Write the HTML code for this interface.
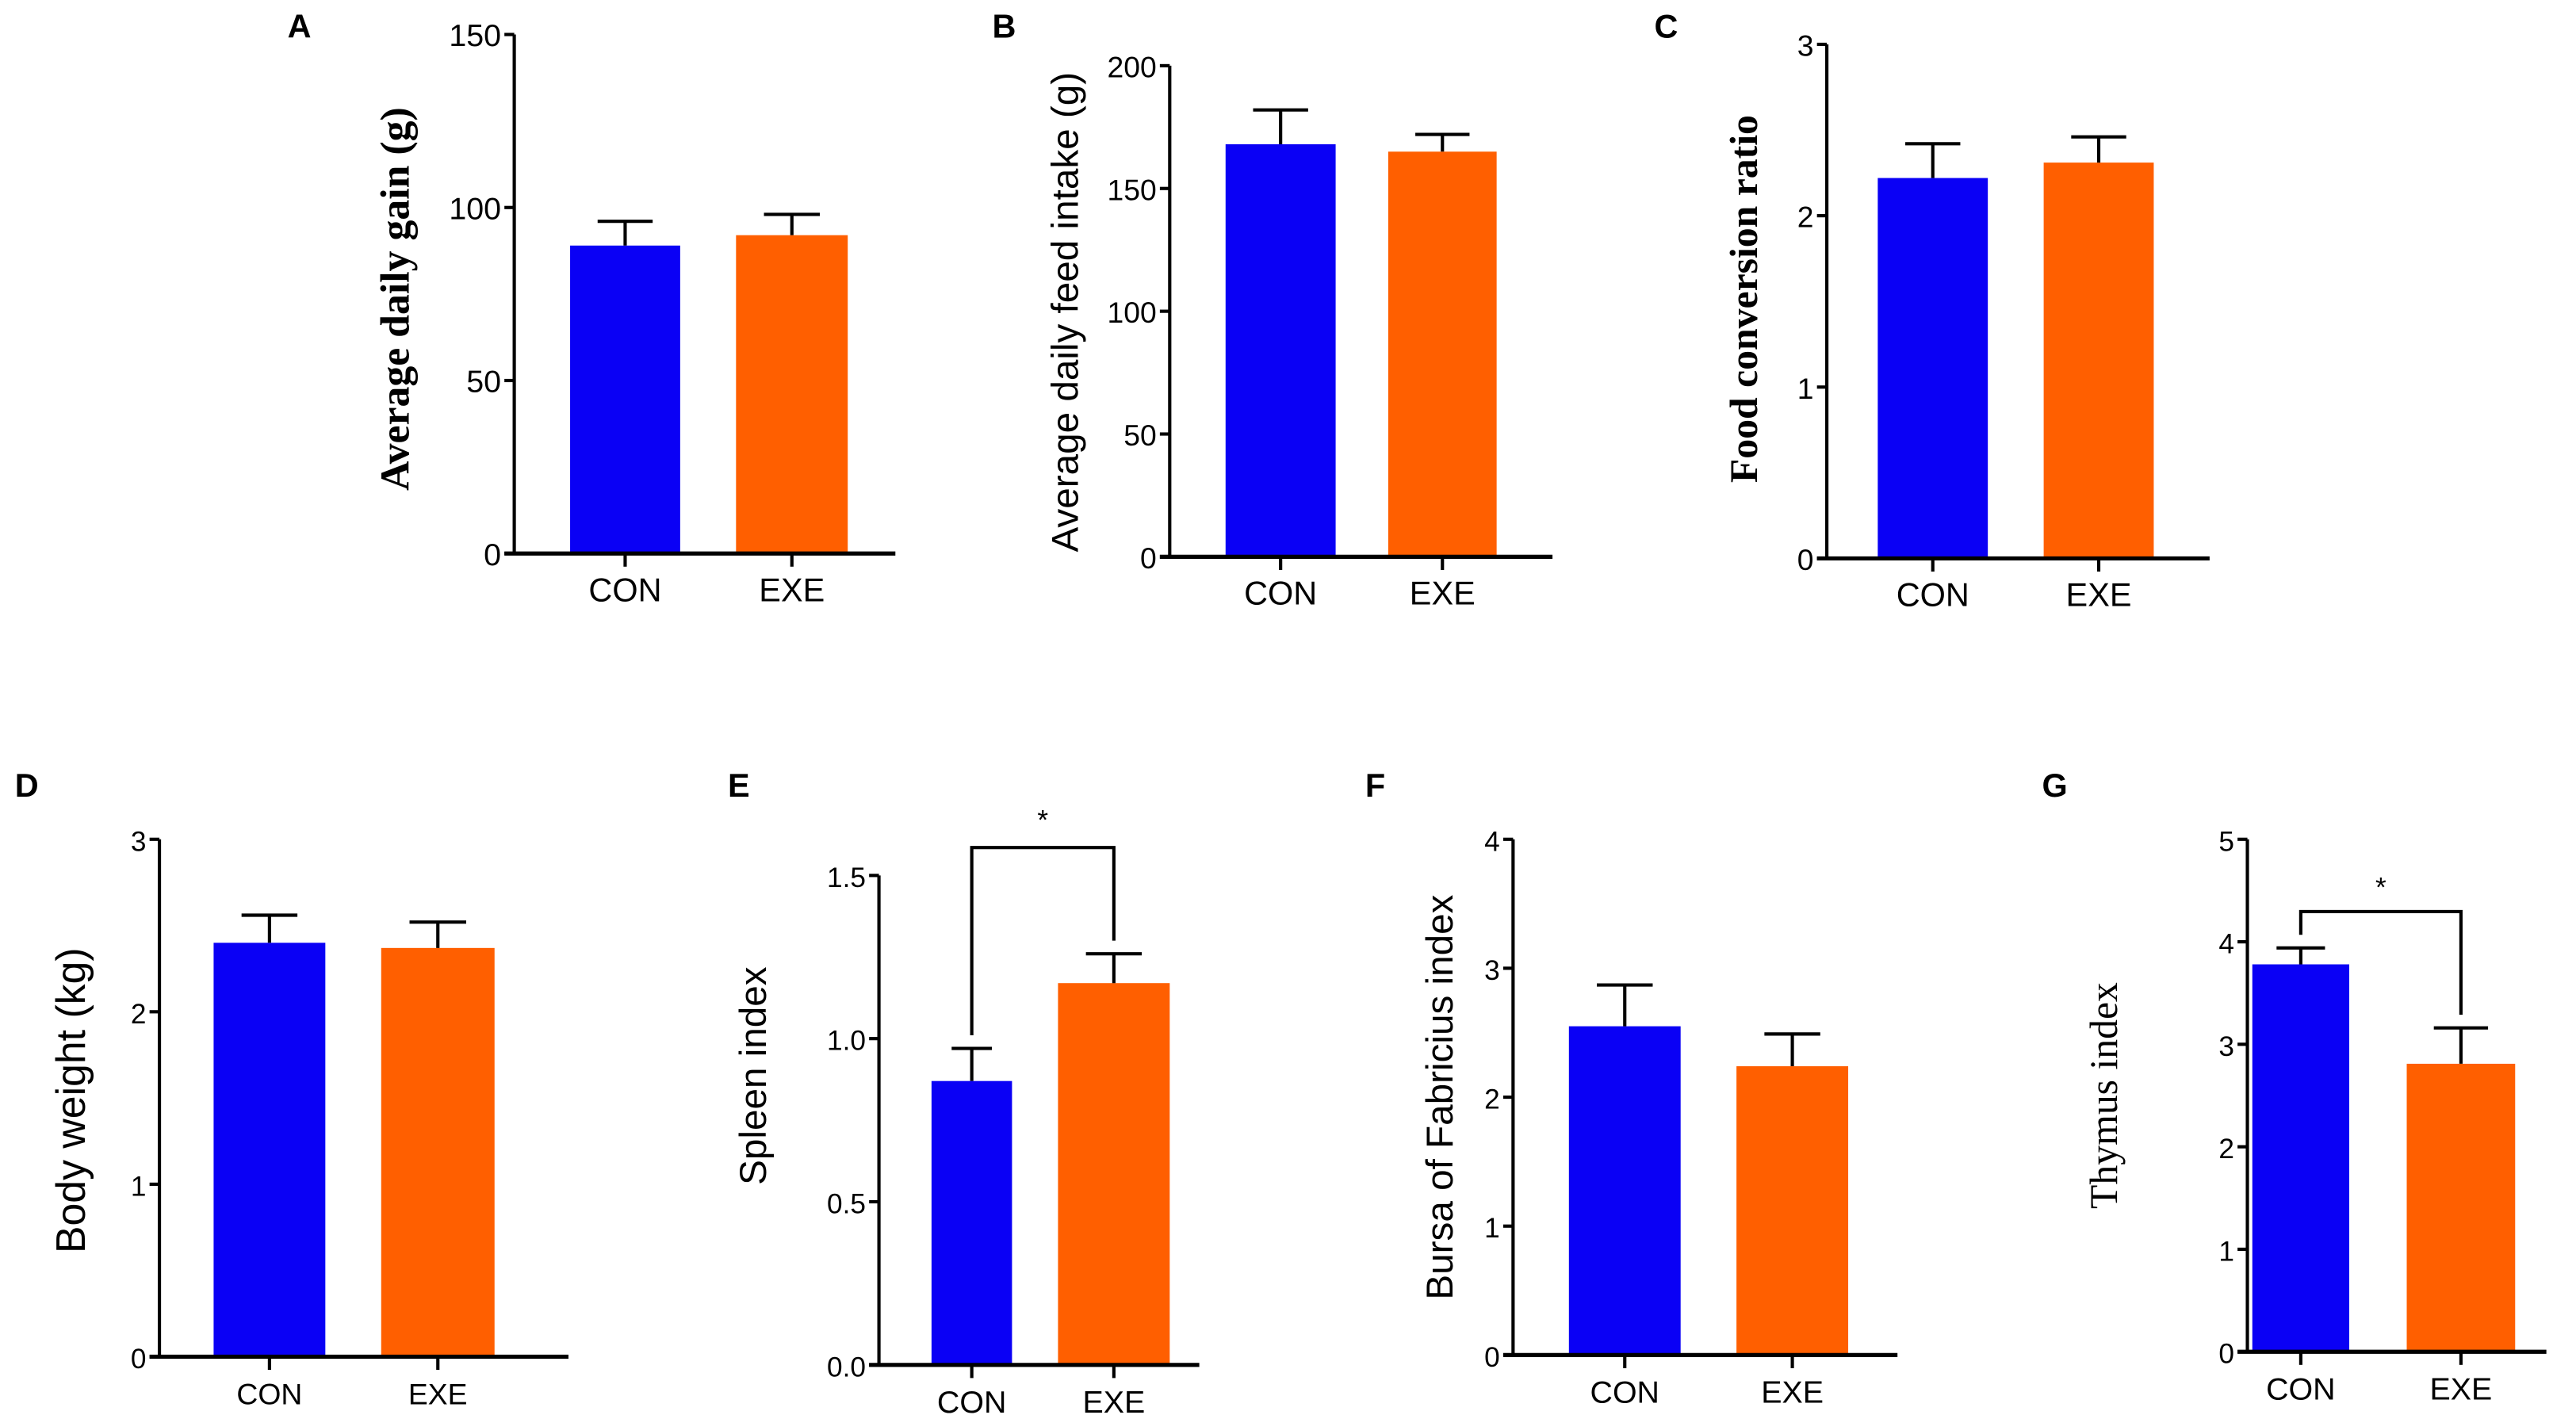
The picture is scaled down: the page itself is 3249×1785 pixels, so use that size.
<!DOCTYPE html>
<html><head><meta charset="utf-8"><style>
html,body{margin:0;padding:0;background:#fff;}
svg{display:block;}
</style></head><body>
<svg id="fig" width="3249" height="1785" viewBox="0 0 1568 861.5" xmlns="http://www.w3.org/2000/svg"></svg>
<script>
// ---- data ----
const categories = ["CON", "EXE"];
const panelLetters = ["A","B","C","D","E","F","G"];
const yTitles = ["Average daily gain (g)","Average daily feed intake (g)","Food conversion ratio","Body weight (kg)","Spleen index","Bursa of Fabricius index","Thymus index"];
const conMeans = [89, 168, 2.22, 2.40, 0.87, 2.55, 3.78];
const conErrTop = [96, 182, 2.42, 2.56, 0.97, 2.87, 3.94];
const exeMeans = [92, 165, 2.31, 2.37, 1.17, 2.24, 2.81];
const exeErrTop = [98, 172, 2.46, 2.52, 1.26, 2.49, 3.16];
const yMaxs = [150, 200, 3, 3, 1.5, 4, 5];
const tickLabelsA = ["0","50","100","150"];
const tickLabelsB = ["0","50","100","150","200"];
const tickLabelsC = ["0","1","2","3"];
const tickLabelsD = ["0","1","2","3"];
const tickLabelsE = ["0.0","0.5","1.0","1.5"];
const tickLabelsF = ["0","1","2","3","4"];
const tickLabelsG = ["0","1","2","3","4","5"];
const tickLabels = [tickLabelsA,tickLabelsB,tickLabelsC,tickLabelsD,tickLabelsE,tickLabelsF,tickLabelsG];
const sigPanels = [4, 6];

// ---- layout (pixels, not data) ----
const layout = [
 {ax:313, y0:337, yTop:21, xEnd:545, bars:[[347,414],[448,516]], lx:175, ly:15, tx:243, ty:182, tf:"serif-bold", fs:25, tickFs:19, catFs:20},
 {ax:712, y0:339, yTop:40, xEnd:945, bars:[[746,813],[845,911]], lx:604, ly:15, tx:650, ty:190, tf:"sans", fs:23, tickFs:18, catFs:20},
 {ax:1112, y0:340, yTop:27, xEnd:1345, bars:[[1143,1210],[1244,1311]], lx:1007, ly:15, tx:1064, ty:182, tf:"serif-bold", fs:24, tickFs:18, catFs:20},
 {ax:97, y0:826, yTop:511, xEnd:346, bars:[[130,198],[232,301]], lx:9, ly:477, tx:45, ty:670, tf:"sans", fs:25, tickFs:17, catFs:18},
 {ax:535, y0:831, yTop:533, xEnd:730, bars:[[567,616],[644,712]], lx:443, ly:477, tx:460, ty:655, tf:"sans", fs:23, tickFs:17, catFs:19, brY:516, starY:505},
 {ax:921, y0:825, yTop:511, xEnd:1155, bars:[[955,1023],[1057,1125]], lx:831, ly:477, tx:878, ty:668, tf:"sans", fs:23, tickFs:17, catFs:19},
 {ax:1368, y0:823, yTop:511, xEnd:1550, bars:[[1371,1430],[1465,1531]], lx:1243, ly:477, tx:1283, ty:667, tf:"serif", fs:24, tickFs:17, catFs:19, brY:555, starY:546}
];
const colors = ["#0a00f5", "#ff5f00"];

const NS = "http://www.w3.org/2000/svg";
const svg = document.getElementById("fig");
function mk(tag, attrs, parent){ const e=document.createElementNS(NS,tag); for(const k in attrs) e.setAttribute(k,attrs[k]); (parent||svg).appendChild(e); return e; }
const SANS='"Liberation Sans", Arial, sans-serif', SERIF='"Liberation Serif", "Times New Roman", serif';

layout.forEach((L, p) => {
  const g = mk("g", {});
  
  
  const yScale = v => L.y0 - (v / yMaxs[p]) * (L.y0 - L.yTop);
  const lt = mk("text", {x:L.lx, y:L.ly+8, "font-family":SANS, "font-weight":"bold", "font-size":20, fill:"#000"}, g);
  lt.textContent = panelLetters[p];
  
  
  const means = [conMeans[p], exeMeans[p]], errs = [conErrTop[p], exeErrTop[p]];
  L.bars.forEach((b, i) => {
    const yv = yScale(means[i]);
    const r = mk("rect", {x:b[0], y:yv, width:b[1]-b[0], height:L.y0-yv, fill:colors[i]}, g);
    
    
    const cx = (b[0]+b[1])/2, ye = yScale(errs[i]), hw = (b[1]-b[0])/4;
    const eb = mk("path", {d:`M${cx},${yv} V${ye} M${cx-hw},${ye} H${cx+hw}`, stroke:"#000", "stroke-width":2, fill:"none"}, g);
    
    
    mk("line", {x1:cx, y1:L.y0, x2:cx, y2:L.y0+8, stroke:"#000", "stroke-width":2}, g);
    const ct = mk("text", {x:cx, y:L.y0+29, "text-anchor":"middle", "font-family":SANS, "font-size":L.catFs, fill:"#000"}, g);
    ct.textContent = categories[i];
    
    
  });
  const ya = mk("line", {x1:L.ax, y1:L.yTop, x2:L.ax, y2:L.y0, stroke:"#000", "stroke-width":2}, g);
  
  
  const xa = mk("line", {x1:L.ax-6, y1:L.y0, x2:L.xEnd, y2:L.y0, stroke:"#000", "stroke-width":2.5}, g);
  
  
  const labs = tickLabels[p];
  labs.forEach((t, k) => {
    const v = yMaxs[p] * k / (labs.length - 1);
    const yy = yScale(v);
    mk("line", {x1:L.ax-6, y1:yy, x2:L.ax, y2:yy, stroke:"#000", "stroke-width":2}, g);
    const tt = mk("text", {x:L.ax-8, y:yy+7, "text-anchor":"end", "font-family":SANS, "font-size":L.tickFs, fill:"#000"}, g);
    tt.textContent = t;
    
    
  });
  const fam = L.tf.startsWith("serif") ? SERIF : SANS;
  const yt = mk("text", {x:L.tx, y:L.ty, transform:`rotate(-90 ${L.tx} ${L.ty})`, "text-anchor":"middle", "dominant-baseline":"middle", "font-family":fam, "font-weight":L.tf==="serif-bold"?"bold":"normal", "font-size":L.fs, fill:"#000"}, g);
  yt.textContent = yTitles[p];
  
  
  if (sigPanels.includes(p)) {
    const c1 = (L.bars[0][0]+L.bars[0][1])/2, c2 = (L.bars[1][0]+L.bars[1][1])/2;
    const y1 = yScale(conErrTop[p]) - 8, y2 = yScale(exeErrTop[p]) - 8;
    const br = mk("path", {d:`M${c1},${y1} V${L.brY} H${c2} V${y2}`, stroke:"#000", "stroke-width":2, fill:"none"}, g);
    
    
    const st = mk("text", {x:(c1+c2)/2, y:L.starY, "text-anchor":"middle", "font-family":SANS, "font-size":17, fill:"#000"}, g);
    st.textContent = "*";
    
    
  }
});
</script>
</body></html>
